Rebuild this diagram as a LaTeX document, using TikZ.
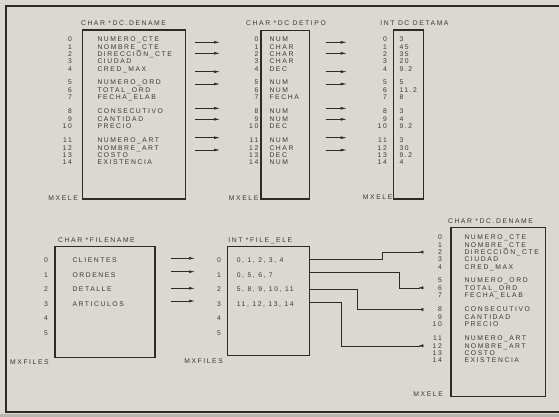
\documentclass[tikz,border=0pt]{standalone}
\usepackage{fontspec}
\usepackage{tikz}
\usetikzlibrary{arrows.meta}
\newfontfamily\letra{Liberation Sans}[LetterSpace=23]
\definecolor{Fondo}{HTML}{DBD7D1}
\definecolor{Tinta}{HTML}{2B2B2B}
\definecolor{Texto}{HTML}{3A3A3A}
\tikzset{
  txt/.style={anchor=west, inner sep=0pt, text height=4.9pt, text depth=0pt,
    text=Texto, font=\letra\fontsize{6.8}{7}\selectfont},
  idx/.style={txt, anchor=east},
  titulo/.style={txt, anchor=center},
  caja/.style={draw=Tinta, line width=1.3pt},
  punta/.style={draw=Tinta, line width=0.6pt, -{Latex[length=6pt,width=2.8pt]}},
  enlace/.style={draw=Tinta, line width=0.6pt, -{Latex[reversed,length=5pt,width=3.2pt]}},
}
\newcommand{\celda}[6]{% name, x index, x text, y, index, text
  \node[idx] (#1n) at (#2,#4) {#5};
  \node[txt] (#1) at (#3,#4) {#6};
}
\newcommand{\flecha}[3]{% x from, x to, y
  \draw[punta] (#1,#3) -- (#2,#3);
}
\newcommand{\dename}[4]{% prefix, x index, x text, y offset
  \celda{#10}{#2}{#3}{39.5+#4}{0}{NUMERO\_CTE}
  \celda{#11}{#2}{#3}{46.8+#4}{1}{NOMBRE\_CTE}
  \celda{#12}{#2}{#3}{54.1+#4}{2}{DIRECCIÓN\_CTE}
  \celda{#13}{#2}{#3}{61.4+#4}{3}{CIUDAD}
  \celda{#14}{#2}{#3}{68.7+#4}{4}{CRED\_MAX}
  \celda{#15}{#2}{#3}{82.5+#4}{5}{NUMERO\_ORD}
  \celda{#16}{#2}{#3}{89.8+#4}{6}{TOTAL\_ORD}
  \celda{#17}{#2}{#3}{97.1+#4}{7}{FECHA\_ELAB}
  \celda{#18}{#2}{#3}{111.5+#4}{8}{CONSECUTIVO}
  \celda{#19}{#2}{#3}{118.8+#4}{9}{CANTIDAD}
  \celda{#110}{#2}{#3}{126.1+#4}{10}{PRECIO}
  \celda{#111}{#2}{#3}{140.5+#4}{11}{NUMERO\_ART}
  \celda{#112}{#2}{#3}{147.8+#4}{12}{NOMBRE\_ART}
  \celda{#113}{#2}{#3}{155.1+#4}{13}{COSTO}
  \celda{#114}{#2}{#3}{162.4+#4}{14}{EXISTENCIA}
}

\begin{document}
\begin{tikzpicture}[x=1pt, y=-1pt]
\useasboundingbox (0,0) rectangle (559,417);

% Paper and frame
\fill[Fondo] (0,0) rectangle (559,417);
\fill[Fondo!85!black] (0,413.5) rectangle (559,417);
\draw[Tinta, line width=1.3pt] (6,6) rectangle (570,412);

% Names of the fields
\draw[caja] (82.7,30) rectangle (185.7,199);
\node[titulo] (tnom) at (123.5,23.3) {CHAR *DC.DENAME};
\dename{a}{72}{97.3}{0}
\node[idx] (mxa) at (78,198) {MXELE};

% Types of the fields
\draw[caja] (261,30.7) rectangle (309.3,199);
\node[titulo] (ttip) at (286,22.7) {CHAR *DC DETIPO};
\celda{b0}{258.5}{269.3}{39.5}{0}{NUM}
\celda{b1}{258.5}{269.3}{46.8}{1}{CHAR}
\celda{b2}{258.5}{269.3}{54.1}{2}{CHAR}
\celda{b3}{258.5}{269.3}{61.4}{3}{CHAR}
\celda{b4}{258.5}{269.3}{68.7}{4}{DEC}
\celda{b5}{258.5}{269.3}{82.5}{5}{NUM}
\celda{b6}{258.5}{269.3}{89.8}{6}{NUM}
\celda{b7}{258.5}{269.3}{97.1}{7}{FECHA}
\celda{b8}{258.5}{269.3}{111.5}{8}{NUM}
\celda{b9}{258.5}{269.3}{118.8}{9}{NUM}
\celda{b10}{258.5}{269.3}{126.1}{10}{DEC}
\celda{b11}{258.5}{269.3}{140.5}{11}{NUM}
\celda{b12}{258.5}{269.3}{147.8}{12}{CHAR}
\celda{b13}{258.5}{269.3}{155.1}{13}{DEC}
\celda{b14}{258.5}{269.3}{162.4}{14}{NUM}
\node[idx] (mxb) at (258.5,198) {MXELE};

% Sizes of the fields
\draw[caja] (393.3,30) rectangle (423.3,199);
\node[titulo] (ttam) at (414.5,22.7) {INT DC DETAMA};
\celda{c0}{387}{399.3}{39.5}{0}{3}
\celda{c1}{387}{399.3}{46.8}{1}{45}
\celda{c2}{387}{399.3}{54.1}{2}{35}
\celda{c3}{387}{399.3}{61.4}{3}{20}
\celda{c4}{387}{399.3}{68.7}{4}{9.2}
\celda{c5}{387}{399.3}{82.5}{5}{5}
\celda{c6}{387}{399.3}{89.8}{6}{11.2}
\celda{c7}{387}{399.3}{97.1}{7}{8}
\celda{c8}{387}{399.3}{111.5}{8}{3}
\celda{c9}{387}{399.3}{118.8}{9}{4}
\celda{c10}{387}{399.3}{126.1}{10}{9.2}
\celda{c11}{387}{399.3}{140.5}{11}{3}
\celda{c12}{387}{399.3}{147.8}{12}{30}
\celda{c13}{387}{399.3}{155.1}{13}{9.2}
\celda{c14}{387}{399.3}{162.4}{14}{4}
\node[idx] (mxc) at (392.5,197) {MXELE};

% Arrows between the upper arrays
\flecha{195}{220}{42.3}
\flecha{195}{220}{53.3}
\flecha{195}{220}{71.7}
\flecha{195}{220}{84}
\flecha{195}{220}{108.3}
\flecha{195}{220}{119.3}
\flecha{195}{220}{137.7}
\flecha{195}{220}{150}
\flecha{325.7}{346.7}{42.3}
\flecha{325.7}{346.7}{53.3}
\flecha{325.7}{346.7}{71.7}
\flecha{325.7}{346.7}{84}
\flecha{325.7}{346.7}{108.3}
\flecha{325.7}{346.7}{119.3}
\flecha{325.7}{346.7}{137.7}
\flecha{325.7}{346.7}{150}

% File names
\draw[caja] (55,246.7) rectangle (155,357.3);
\node[titulo] (tfil) at (96.5,240) {CHAR *FILENAME};
\celda{f0}{48}{72.3}{260}{0}{CLIENTES}
\celda{f1}{48}{72.3}{274.6}{1}{ORDENES}
\celda{f2}{48}{72.3}{289.2}{2}{DETALLE}
\celda{f3}{48}{72.3}{303.8}{3}{ARTICULOS}
\node[idx] (f4n) at (48,318.4) {4};
\node[idx] (f5n) at (48,333) {5};
\node[txt] (mxf) at (10,362) {MXFILES};

\flecha{170.7}{195}{258.3}
\flecha{170.7}{195}{271.7}
\flecha{170.7}{195}{288.3}
\flecha{170.7}{195}{301}

% Fields of each file
\draw[caja] (227.7,246.7) rectangle (309.3,355.7);
\coordinate (eder) at (309.3,0);
\node[titulo] (tele) at (260.3,240) {INT *FILE\_ELE};
\celda{e0}{221}{236.7}{260}{0}{0, 1, 2, 3, 4}
\celda{e1}{221}{236.7}{274.6}{1}{0, 5, 6, 7}
\celda{e2}{221}{236.7}{289.2}{2}{5, 8, 9, 10, 11}
\celda{e3}{221}{236.7}{303.8}{3}{11, 12, 13, 14}
\node[idx] (e4n) at (221,318.4) {4};
\node[idx] (e5n) at (221,333) {5};
\node[idx] (mxe) at (223,361) {MXFILES};

% Names again
\draw[caja] (451,227.7) rectangle (545.7,396.7);
\coordinate (dfin) at (423.3,0);
\node[titulo] (tnom2) at (490.5,220.7) {CHAR *DC.DENAME};
\dename{d}{442}{464.3}{198}
\node[idx] (mxd) at (443,394) {MXELE};

% Links from the fields to their names
\draw[enlace] ([yshift=1pt]e0n.center -| eder) -- ++(73,0) |- (d2n -| dfin);
\draw[enlace] ([yshift=2pt]e1n.center -| eder) -- ++(90,0) |- (d6n -| dfin);
\draw[enlace] (e2n -| eder) -- ++(48.4,0) |- (d8n -| dfin);
\draw[enlace] ([yshift=2pt]e3n.center -| eder) -- ++(32.4,0) |- (d12n -| dfin);

\end{tikzpicture}
\end{document}
